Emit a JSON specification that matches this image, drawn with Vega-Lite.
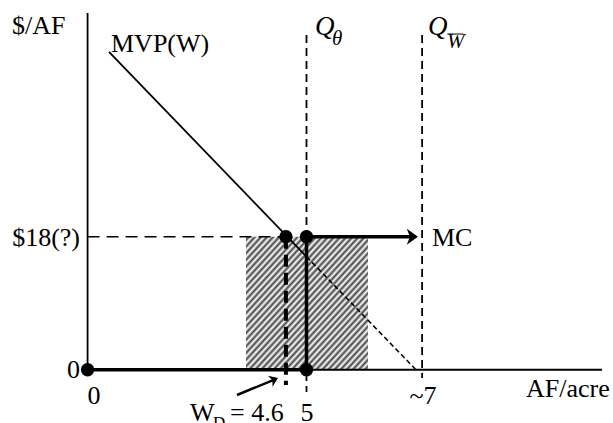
{
  "$schema": "https://vega.github.io/schema/vega-lite/v6.json",
  "width": 613,
  "height": 423,
  "autosize": {"type": "none"},
  "padding": 0,
  "background": "white",
  "config": {"view": {"stroke": null}},
  "datasets": {
    "hatch": [{"x": 3.618, "x2": 6.404, "y": 0, "y2": 18}],
    "thin": [
      {"x": 0, "y": 0, "x2": 0, "y2": 48.24},
      {"x": 0, "y": 0, "x2": 11.75, "y2": 0},
      {"x": 0.489, "y": 42.97, "x2": 5, "y2": 15.3}
    ],
    "mvpdash": [{"x": 5, "y": 15.3, "x2": 7.5, "y2": 0}],
    "thick": [
      {"x": 0, "y": 0, "x2": 5, "y2": 0},
      {"x": 5, "y": 0, "x2": 5, "y2": 18},
      {"x": 5, "y": 18, "x2": 7.455, "y2": 18}
    ],
    "warrow": [{"x": 3.413, "y": -3.41, "x2": 4.281, "y2": -1.3}],
    "hdash": [{"x": 0, "y": 18, "x2": 4.53, "y2": 18}],
    "qdash": [
      {"x": 5, "y": 45.27, "x2": 5, "y2": -3.01},
      {"x": 7.64, "y": 45.27, "x2": 7.64, "y2": -1.12}
    ],
    "wdash": [{"x": 4.53, "y": 18, "x2": 4.53, "y2": -2.06}],
    "bar": [{"x": 8.215, "y": 45.4, "x2": 8.57, "y2": 45.4}],
    "dots": [
      {"x": 0, "y": 0},
      {"x": 4.53, "y": 18},
      {"x": 5, "y": 18},
      {"x": 5, "y": 0}
    ],
    "mchead": [{"x": 7.418, "y": 18}],
    "whead": [{"x": 4.26, "y": -1.33}],
    "textLeft": [
      {"x": -1.726, "y": 45.4, "label": "$/AF"},
      {"x": 0.535, "y": 42.97, "label": "MVP(W)"},
      {"x": 7.866, "y": 16.73, "label": "MC"},
      {"x": 10.013, "y": -3.69, "label": "AF/acre"},
      {"x": 2.339, "y": -6.93, "label": "W"},
      {"x": 3.253, "y": -6.93, "label": "= 4.6"}
    ],
    "textRight": [
      {"x": -0.173, "y": 16.73, "label": "$18(?)"},
      {"x": -0.173, "y": -1.12, "label": "0"}
    ],
    "textCenter": [
      {"x": 0.147, "y": -4.63, "label": "0"},
      {"x": 5.011, "y": -6.93, "label": "5"},
      {"x": 7.661, "y": -4.63, "label": "~7"}
    ],
    "subD": [{"x": 2.865, "y": -7.88, "label": "D"}],
    "qText": [
      {"x": 5.194, "y": 45.27, "label": "Q"},
      {"x": 7.775, "y": 45.27, "label": "Q"}
    ],
    "qSub": [
      {"x": 5.582, "y": 43.91, "label": "θ"},
      {"x": 8.209, "y": 43.5, "label": "W"}
    ]
  },
  "encoding": {
    "x": {"field": "x", "type": "quantitative", "scale": {"domain": [-2, 12], "nice": false, "zero": false}, "axis": null},
    "y": {"field": "y", "type": "quantitative", "scale": {"domain": [-7.2, 50], "nice": false, "zero": false}, "axis": null}
  },
  "layer": [
    {
      "data": {"name": "hatch"},
      "mark": {
        "type": "rect",
        "fill": {
          "gradient": "linear", "x1": 0, "y1": 0, "x2": 1, "y2": 1,
          "stops": [
            {"offset": 0, "color": "#ffffff"}, {"offset": 0.0125, "color": "#444444"},
            {"offset": 0.025, "color": "#ffffff"}, {"offset": 0.0375, "color": "#444444"},
            {"offset": 0.05, "color": "#ffffff"}, {"offset": 0.0625, "color": "#444444"},
            {"offset": 0.075, "color": "#ffffff"}, {"offset": 0.0875, "color": "#444444"},
            {"offset": 0.1, "color": "#ffffff"}, {"offset": 0.1125, "color": "#444444"},
            {"offset": 0.125, "color": "#ffffff"}, {"offset": 0.1375, "color": "#444444"},
            {"offset": 0.15, "color": "#ffffff"}, {"offset": 0.1625, "color": "#444444"},
            {"offset": 0.175, "color": "#ffffff"}, {"offset": 0.1875, "color": "#444444"},
            {"offset": 0.2, "color": "#ffffff"}, {"offset": 0.2125, "color": "#444444"},
            {"offset": 0.225, "color": "#ffffff"}, {"offset": 0.2375, "color": "#444444"},
            {"offset": 0.25, "color": "#ffffff"}, {"offset": 0.2625, "color": "#444444"},
            {"offset": 0.275, "color": "#ffffff"}, {"offset": 0.2875, "color": "#444444"},
            {"offset": 0.3, "color": "#ffffff"}, {"offset": 0.3125, "color": "#444444"},
            {"offset": 0.325, "color": "#ffffff"}, {"offset": 0.3375, "color": "#444444"},
            {"offset": 0.35, "color": "#ffffff"}, {"offset": 0.3625, "color": "#444444"},
            {"offset": 0.375, "color": "#ffffff"}, {"offset": 0.3875, "color": "#444444"},
            {"offset": 0.4, "color": "#ffffff"}, {"offset": 0.4125, "color": "#444444"},
            {"offset": 0.425, "color": "#ffffff"}, {"offset": 0.4375, "color": "#444444"},
            {"offset": 0.45, "color": "#ffffff"}, {"offset": 0.4625, "color": "#444444"},
            {"offset": 0.475, "color": "#ffffff"}, {"offset": 0.4875, "color": "#444444"},
            {"offset": 0.5, "color": "#ffffff"}, {"offset": 0.5125, "color": "#444444"},
            {"offset": 0.525, "color": "#ffffff"}, {"offset": 0.5375, "color": "#444444"},
            {"offset": 0.55, "color": "#ffffff"}, {"offset": 0.5625, "color": "#444444"},
            {"offset": 0.575, "color": "#ffffff"}, {"offset": 0.5875, "color": "#444444"},
            {"offset": 0.6, "color": "#ffffff"}, {"offset": 0.6125, "color": "#444444"},
            {"offset": 0.625, "color": "#ffffff"}, {"offset": 0.6375, "color": "#444444"},
            {"offset": 0.65, "color": "#ffffff"}, {"offset": 0.6625, "color": "#444444"},
            {"offset": 0.675, "color": "#ffffff"}, {"offset": 0.6875, "color": "#444444"},
            {"offset": 0.7, "color": "#ffffff"}, {"offset": 0.7125, "color": "#444444"},
            {"offset": 0.725, "color": "#ffffff"}, {"offset": 0.7375, "color": "#444444"},
            {"offset": 0.75, "color": "#ffffff"}, {"offset": 0.7625, "color": "#444444"},
            {"offset": 0.775, "color": "#ffffff"}, {"offset": 0.7875, "color": "#444444"},
            {"offset": 0.8, "color": "#ffffff"}, {"offset": 0.8125, "color": "#444444"},
            {"offset": 0.825, "color": "#ffffff"}, {"offset": 0.8375, "color": "#444444"},
            {"offset": 0.85, "color": "#ffffff"}, {"offset": 0.8625, "color": "#444444"},
            {"offset": 0.875, "color": "#ffffff"}, {"offset": 0.8875, "color": "#444444"},
            {"offset": 0.9, "color": "#ffffff"}, {"offset": 0.9125, "color": "#444444"},
            {"offset": 0.925, "color": "#ffffff"}, {"offset": 0.9375, "color": "#444444"},
            {"offset": 0.95, "color": "#ffffff"}, {"offset": 0.9625, "color": "#444444"},
            {"offset": 0.975, "color": "#ffffff"}, {"offset": 0.9875, "color": "#444444"},
            {"offset": 1, "color": "#ffffff"}
          ]
        }
      },
      "encoding": {"x2": {"field": "x2"}, "y2": {"field": "y2"}}
    },
    {
      "data": {"name": "thin"},
      "mark": {"type": "rule", "color": "black", "strokeWidth": 1.8},
      "encoding": {"x2": {"field": "x2"}, "y2": {"field": "y2"}}
    },
    {
      "data": {"name": "mvpdash"},
      "mark": {"type": "rule", "color": "black", "strokeWidth": 1.5, "strokeDash": [5, 3]},
      "encoding": {"x2": {"field": "x2"}, "y2": {"field": "y2"}}
    },
    {
      "data": {"name": "hdash"},
      "mark": {"type": "rule", "color": "black", "strokeWidth": 1.5, "strokeDash": [12, 7]},
      "encoding": {"x2": {"field": "x2"}, "y2": {"field": "y2"}}
    },
    {
      "data": {"name": "qdash"},
      "mark": {"type": "rule", "color": "black", "strokeWidth": 1.8, "strokeDash": [8, 5]},
      "encoding": {"x2": {"field": "x2"}, "y2": {"field": "y2"}}
    },
    {
      "data": {"name": "wdash"},
      "mark": {"type": "rule", "color": "black", "strokeWidth": 4, "strokeDash": [12, 6]},
      "encoding": {"x2": {"field": "x2"}, "y2": {"field": "y2"}}
    },
    {
      "data": {"name": "thick"},
      "mark": {"type": "rule", "color": "black", "strokeWidth": 3.5},
      "encoding": {"x2": {"field": "x2"}, "y2": {"field": "y2"}}
    },
    {
      "data": {"name": "warrow"},
      "mark": {"type": "rule", "color": "black", "strokeWidth": 2.5},
      "encoding": {"x2": {"field": "x2"}, "y2": {"field": "y2"}}
    },
    {
      "data": {"name": "bar"},
      "mark": {"type": "rule", "color": "black", "strokeWidth": 1},
      "encoding": {"x2": {"field": "x2"}, "y2": {"field": "y2"}}
    },
    {
      "data": {"name": "dots"},
      "mark": {"type": "point", "shape": "circle", "filled": true, "color": "black", "opacity": 1, "size": 180}
    },
    {
      "data": {"name": "mchead"},
      "mark": {"type": "point", "shape": "M-0.7,-1L0.7,0L-0.7,1L-0.3,0Z", "filled": true, "color": "black", "opacity": 1, "size": 256}
    },
    {
      "data": {"name": "whead"},
      "mark": {"type": "point", "shape": "M-0.7,-1L0.7,0L-0.7,1L-0.3,0Z", "filled": true, "color": "black", "opacity": 1, "size": 144, "angle": -22.5}
    },
    {
      "data": {"name": "textLeft"},
      "mark": {"type": "text", "font": "Liberation Serif", "fontSize": 26, "align": "left", "baseline": "alphabetic", "color": "black"},
      "encoding": {"text": {"field": "label"}}
    },
    {
      "data": {"name": "textRight"},
      "mark": {"type": "text", "font": "Liberation Serif", "fontSize": 26, "align": "right", "baseline": "alphabetic", "color": "black"},
      "encoding": {"text": {"field": "label"}}
    },
    {
      "data": {"name": "textCenter"},
      "mark": {"type": "text", "font": "Liberation Serif", "fontSize": 26, "align": "center", "baseline": "alphabetic", "color": "black"},
      "encoding": {"text": {"field": "label"}}
    },
    {
      "data": {"name": "subD"},
      "mark": {"type": "text", "font": "Liberation Serif", "fontSize": 17, "align": "left", "baseline": "alphabetic", "color": "black"},
      "encoding": {"text": {"field": "label"}}
    },
    {
      "data": {"name": "qText"},
      "mark": {"type": "text", "font": "Liberation Serif", "fontStyle": "italic", "fontSize": 27, "align": "left", "baseline": "alphabetic", "color": "black"},
      "encoding": {"text": {"field": "label"}}
    },
    {
      "data": {"name": "qSub"},
      "mark": {"type": "text", "font": "Liberation Serif", "fontStyle": "italic", "fontSize": 21, "align": "left", "baseline": "alphabetic", "color": "black"},
      "encoding": {"text": {"field": "label"}}
    }
  ]
}
